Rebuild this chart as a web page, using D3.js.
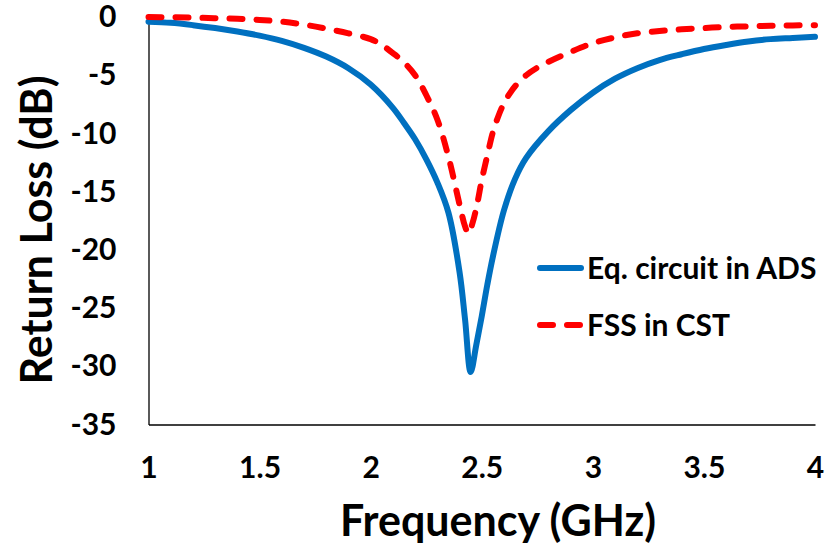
<!DOCTYPE html>
<html>
<head>
<meta charset="utf-8">
<script src="https://cdn.jsdelivr.net/npm/d3@7"></script>
<style>
  html, body { margin: 0; padding: 0; background: #fff; }
  svg { display: block; }
  text { font-family: Lato, "Open Sans", sans-serif; font-weight: bold; fill: #000; }
</style>
</head>
<body>
<svg id="chart" width="828" height="551"></svg>
<script>
// Frequency sweep (GHz) and return loss (dB) of the equivalent circuit simulated in ADS
const adsFreq = [1.0, 1.1, 1.2, 1.3, 1.4, 1.5, 1.6, 1.7, 1.8, 1.9, 2.0, 2.1, 2.15, 2.2, 2.25, 2.3, 2.35, 2.4, 2.425, 2.45, 2.475, 2.5, 2.525, 2.55, 2.6, 2.65, 2.7, 2.8, 2.9, 3.0, 3.1, 3.2, 3.3, 3.4, 3.5, 3.6, 3.7, 3.8, 3.9, 4.0];
const adsLoss = [-0.4, -0.5, -0.7, -0.95, -1.25, -1.6, -2.05, -2.65, -3.4, -4.4, -5.8, -7.8, -9.1, -10.5, -12.2, -14.2, -16.8, -21.9, -26.0, -30.5, -28.2, -25.7, -23.0, -20.6, -16.6, -13.9, -12.1, -9.8, -8.0, -6.5, -5.3, -4.4, -3.7, -3.2, -2.75, -2.4, -2.1, -1.9, -1.8, -1.7];

// Full-wave FSS simulation in CST
const cstFreq = [1.0, 1.1, 1.2, 1.3, 1.4, 1.5, 1.6, 1.7, 1.8, 1.9, 2.0, 2.05, 2.1, 2.15, 2.2, 2.25, 2.3, 2.35, 2.4, 2.425, 2.44, 2.46, 2.48, 2.5, 2.525, 2.55, 2.575, 2.6, 2.625, 2.65, 2.7, 2.75, 2.8, 2.9, 3.0, 3.1, 3.2, 3.3, 3.4, 3.5, 3.6, 3.7, 3.8, 3.9, 4.0];
const cstLoss = [0.0, -0.02, -0.05, -0.1, -0.15, -0.25, -0.4, -0.65, -1.0, -1.4, -1.9, -2.4, -3.1, -3.9, -5.0, -6.7, -8.8, -12.0, -16.1, -18.0, -18.6, -17.6, -16.0, -14.0, -11.9, -9.9, -8.5, -7.4, -6.6, -5.95, -5.0, -4.35, -3.85, -3.0, -2.25, -1.75, -1.4, -1.2, -1.05, -0.95, -0.85, -0.8, -0.75, -0.72, -0.7];

const xTicks = [1, 1.5, 2, 2.5, 3, 3.5, 4];
const yTicks = [0, -5, -10, -15, -20, -25, -30, -35];
const seriesNames = ["Eq. circuit in ADS", "FSS in CST"];

const svg = d3.select("#chart");
const plot = { left: 148.5, right: 815, top: 17, bottom: 424.5 };

const x = d3.scaleLinear().domain([1, 4]).range([plot.left, plot.right]);
const y = d3.scaleLinear().domain([-35, 0]).range([plot.bottom, plot.top]);

// Axes: plain lines, no tick marks, bold labels
const xAxis = svg.append("g")
  .attr("transform", `translate(0,${plot.bottom})`)
  .call(d3.axisBottom(x).tickValues(xTicks).tickSize(0).tickPadding(32)
    .tickFormat(d => String(d)));
xAxis.select(".domain").attr("stroke", "#000").attr("stroke-width", 1.3);
xAxis.selectAll("text").style("font-size", "30px").style("font-family", "Lato, sans-serif")
  .style("font-weight", "bold").attr("dy", "0.71em");

const yAxis = svg.append("g")
  .attr("transform", `translate(${plot.left},0)`)
  .call(d3.axisLeft(y).tickValues(yTicks).tickSize(0).tickPadding(32)
    .tickFormat(d => String(d)));
yAxis.select(".domain").attr("stroke", "#000").attr("stroke-width", 1.3);
yAxis.selectAll("text").style("font-size", "30px").style("font-family", "Lato, sans-serif")
  .style("font-weight", "bold");

// Axis titles
svg.append("text")
  .attr("x", 498)
  .attr("y", 536)
  .attr("text-anchor", "middle")
  .style("font-size", "43px")
  .text("Frequency (GHz)");

svg.append("text")
  .attr("transform", "translate(52,230) rotate(-90)")
  .attr("text-anchor", "middle")
  .style("font-size", "43px")
  .text("Return Loss (dB)");

const line = d3.line()
  .x(d => x(d[0]))
  .y(d => y(d[1]))
  .curve(d3.curveCatmullRom.alpha(0.5));

const adsData = adsFreq.map((f, i) => [f, adsLoss[i]]);
const cstData = cstFreq.map((f, i) => [f, cstLoss[i]]);

svg.append("path")
  .datum(adsData)
  .attr("fill", "none")
  .attr("stroke", "#0070C0")
  .attr("stroke-width", 6)
  .attr("stroke-linejoin", "round")
  .attr("stroke-linecap", "round")
  .attr("d", line);

svg.append("path")
  .datum(cstData)
  .attr("fill", "none")
  .attr("stroke", "#FF0000")
  .attr("stroke-width", 6)
  .attr("stroke-linejoin", "round")
  .attr("stroke-linecap", "round")
  .attr("stroke-dasharray", "13,14")
  .attr("d", line);

// Legend
const legend = svg.append("g");
const legendRows = [
  { name: seriesNames[0], color: "#0070C0", dash: null, y: 268 },
  { name: seriesNames[1], color: "#FF0000", dash: "13,14", y: 325 }
];
legendRows.forEach(r => {
  legend.append("line")
    .attr("x1", 540).attr("x2", 581)
    .attr("y1", r.y).attr("y2", r.y)
    .attr("stroke", r.color)
    .attr("stroke-width", 6)
    .attr("stroke-linecap", "round")
    .attr("stroke-dasharray", r.dash);
  legend.append("text")
    .attr("x", 587)
    .attr("y", r.y)
    .attr("dy", "0.36em")
    .style("font-size", "30px")
    .text(r.name);
});
</script>
</body>
</html>
